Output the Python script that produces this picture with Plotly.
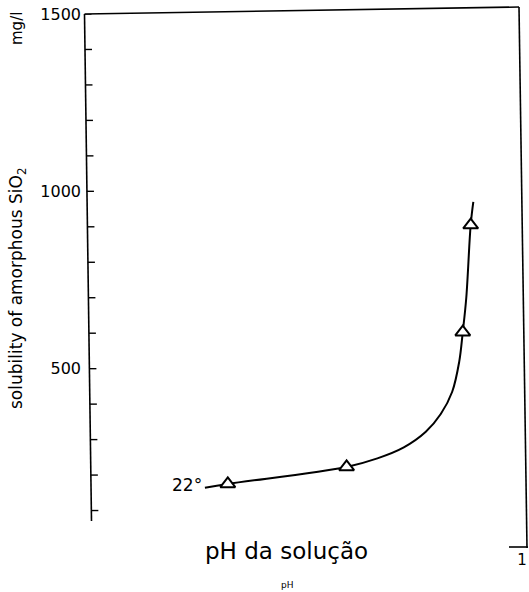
import plotly.graph_objects as go

# ---- data ----
curve_ph = [7.34, 7.60, 8.95, 9.30, 9.60, 9.85, 10.02, 10.15, 10.23, 10.27, 10.31, 10.36, 10.39]
curve_sol = [164, 175, 223, 247, 278, 322, 372, 435, 520, 603, 700, 905, 970]
point_ph = [7.60, 8.95, 10.27, 10.36]
point_sol = [175, 223, 603, 905]
curve_label = "22°"
y_tick_values = [500, 1000, 1500]
y_tick_labels = ["500", "1000", "1500"]
y_minor_ticks = [100, 200, 300, 400, 500, 600, 700, 800, 900, 1000, 1100, 1200, 1300, 1400, 1500]
x_tick_values = [11]
x_tick_labels = ["1"]
x_range = [6, 11]
y_range = [0, 1500]

# ---- layout geometry (pixels) ----
W, H = 529, 592
L, R, T, B = 87, 2, 14, 46
PW, PH_ = W - L - R, H - T - B


def fx(x):
    return (x - L) / PW


def fy(y):
    return (H - B - y) / PH_


FONT = "DejaVu Sans"
fig = go.Figure()

fig.add_trace(go.Scatter(
    x=curve_ph, y=curve_sol, mode="lines",
    line=dict(color="black", width=2, shape="spline", smoothing=1.0),
    hoverinfo="skip", showlegend=False))
fig.add_trace(go.Scatter(
    x=point_ph, y=point_sol, mode="markers",
    marker=dict(symbol="triangle-up", size=13, color="white",
                line=dict(color="black", width=2)),
    showlegend=False))

shapes = []
# frame lines of the scanned figure (slightly skewed)
for (x0, y0, x1, y1) in [(84.5, 14, 91.5, 521), (84.5, 14, 519, 7),
                         (519, 7, 527, 548), (509, 547, 528, 547)]:
    shapes.append(dict(type="line", xref="paper", yref="paper",
                       x0=fx(x0), y0=fy(y0), x1=fx(x1), y1=fy(y1),
                       line=dict(color="black", width=1.6)))
# minor/major tick marks along the left axis (follow the skew)
for v in y_minor_ticks:
    ypix = 546 - v * 532 / 1500
    xline = 84.5 + (ypix - 14) * 7 / 507
    shapes.append(dict(type="line", xref="paper", yref="y",
                       x0=fx(xline), x1=fx(xline + 7), y0=v, y1=v,
                       line=dict(color="black", width=1.4)))

annotations = [
    dict(x=curve_ph[0], y=curve_sol[0], xref="x", yref="y", text=curve_label,
         xanchor="right", yanchor="middle", xshift=-1, yshift=3, showarrow=False,
         font=dict(family=FONT, size=17, color="black")),
    dict(x=fx(17), y=fy(289), xref="paper", yref="paper",
         text="solubility of amorphous SiO<sub>2</sub>", textangle=-90,
         xanchor="center", yanchor="middle", showarrow=False,
         font=dict(family=FONT, size=17, color="black")),
    dict(x=fx(17), y=fy(29), xref="paper", yref="paper", text="mg/l", textangle=-90,
         xanchor="center", yanchor="middle", showarrow=False,
         font=dict(family=FONT, size=15, color="black")),
    dict(x=fx(286), y=fy(551), xref="paper", yref="paper", text="pH da solução",
         xanchor="center", yanchor="middle", showarrow=False,
         font=dict(family=FONT, size=23, color="black")),
    dict(x=fx(287), y=fy(592), xref="paper", yref="paper", text="pH",
         xanchor="center", yanchor="bottom", showarrow=False,
         font=dict(family=FONT, size=9, color="black")),
]

fig.update_layout(
    width=W, height=H, margin=dict(l=L, r=R, t=T, b=B),
    paper_bgcolor="white", plot_bgcolor="white",
    shapes=shapes, annotations=annotations, showlegend=False,
    xaxis=dict(range=x_range, showgrid=False, zeroline=False, showline=False,
               tickvals=x_tick_values, ticktext=x_tick_labels, ticks="",
               ticklabelshift=-5, ticklabelstandoff=3, ticklabeloverflow="allow",
               tickfont=dict(family=FONT, size=15, color="black")),
    yaxis=dict(range=y_range, showgrid=False, zeroline=False, showline=False,
               tickvals=y_tick_values, ticktext=y_tick_labels, ticks="",
               ticklabelstandoff=5,
               tickfont=dict(family=FONT, size=16, color="black")),
)

fig.write_html("out.html", config={"displayModeBar": False},
               post_script="document.body.style.margin='0';")
